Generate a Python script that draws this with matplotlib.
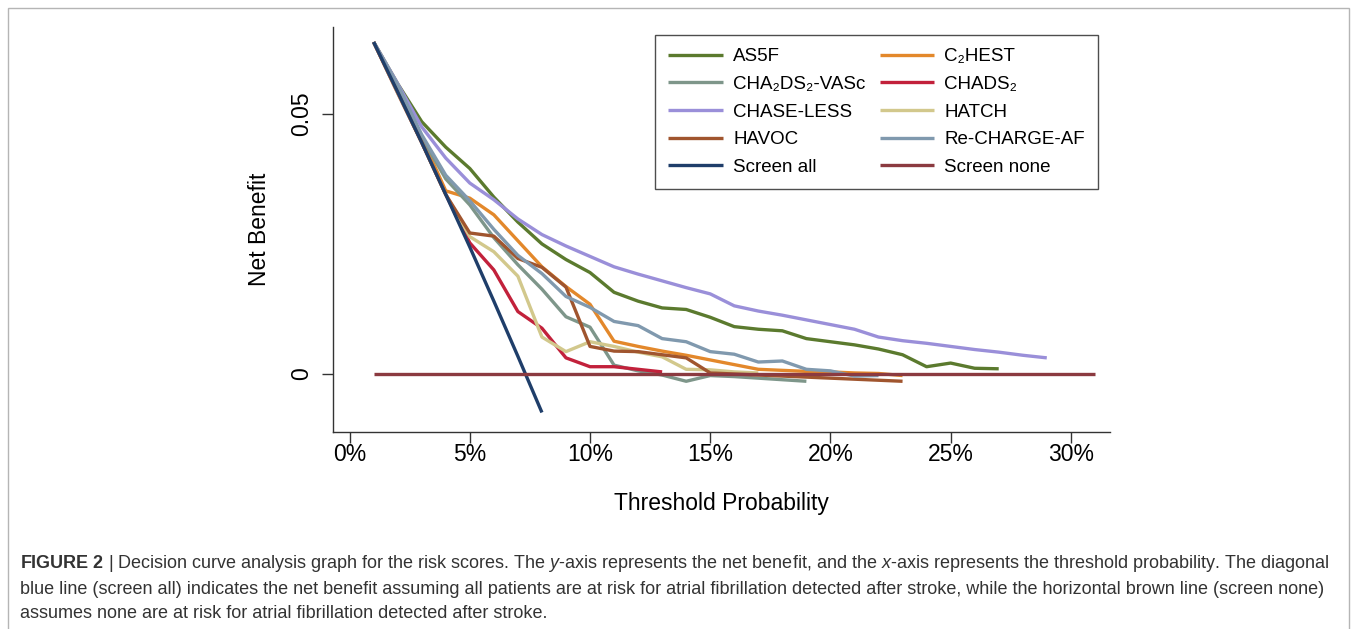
"""
Decision curve analysis for AF risk scores (net benefit vs threshold probability)
"""

import matplotlib
matplotlib.use('Agg')
from matplotlib import pyplot as plt
from matplotlib.patches import Rectangle
from matplotlib.ticker import FuncFormatter

plt.rcParams['font.family'] = ['Liberation Sans', 'DejaVu Sans']
plt.rcParams['mathtext.fontset'] = 'custom'
plt.rcParams['mathtext.rm'] = 'Liberation Sans'
plt.rcParams['mathtext.it'] = 'Liberation Sans:italic'
plt.rcParams['mathtext.bf'] = 'Liberation Sans:bold'

# threshold probabilities (%) and net benefit per score
as5f = [0.0638, 0.0558, 0.0485, 0.0436, 0.0395, 0.0340, 0.0292, 0.0250, 0.0220, 0.0195,
        0.0157, 0.0140, 0.0127, 0.0124, 0.0109, 0.0091, 0.0086, 0.0083, 0.0068, 0.0062,
        0.0056, 0.0048, 0.0037, 0.0014, 0.0021, 0.0011, 0.0010]
c2hest = [0.0638, 0.0555, 0.0455, 0.0352, 0.0338, 0.0306, 0.0256, 0.0206, 0.0168, 0.0134,
          0.0063, 0.0053, 0.0044, 0.0036, 0.0027, 0.0018, 0.0009, 0.0007, 0.0005, 0.0004,
          0.0002, 0.0001, -0.0003]
cha2ds2vasc = [0.0638, 0.0550, 0.0455, 0.0375, 0.0325, 0.0262, 0.0210, 0.0163, 0.0110, 0.0090,
               0.0017, 0.0006, -0.0002, -0.0014, -0.0003, -0.0005, -0.0008, -0.0011, -0.0014]
chads2 = [0.0638, 0.0540, 0.0445, 0.0345, 0.0252, 0.0200, 0.0120, 0.0088, 0.0031, 0.0014,
          0.0014, 0.0009, 0.0004]
chase_less = [0.0638, 0.0558, 0.0475, 0.0415, 0.0367, 0.0335, 0.0298, 0.0268, 0.0246, 0.0226,
              0.0206, 0.0192, 0.0179, 0.0166, 0.0154, 0.0131, 0.0121, 0.0113, 0.0104, 0.0095,
              0.0086, 0.0071, 0.0064, 0.0059, 0.0053, 0.0047, 0.0042, 0.0036, 0.0031]
hatch = [0.0638, 0.0540, 0.0445, 0.0345, 0.0264, 0.0235, 0.0188, 0.0071, 0.0043, 0.0062,
         0.0053, 0.0042, 0.0033, 0.0009, 0.0008, 0.0004, 0.0002]
havoc = [0.0638, 0.0542, 0.0445, 0.0345, 0.0271, 0.0265, 0.0222, 0.0205, 0.0167, 0.0053,
         0.0044, 0.0043, 0.0037, 0.0031, 0.0002, 0.0000, -0.0002, -0.0004, -0.0006, -0.0008,
         -0.0010, -0.0012, -0.0014]
recharge_af = [0.0638, 0.0556, 0.0460, 0.0382, 0.0333, 0.0278, 0.0228, 0.0193, 0.0149, 0.0128,
               0.0101, 0.0093, 0.0068, 0.0062, 0.0043, 0.0038, 0.0023, 0.0025, 0.0009, 0.0006,
               -0.0004, -0.0003]
screen_all = [0.0638, 0.0542, 0.0445, 0.0345, 0.0244, 0.0140, 0.0034, -0.0074]
screen_none = [0.0] * 31

labels = ['AS5F', 'C\u2082HEST', 'CHA\u2082DS\u2082-VASc', 'CHADS\u2082', 'CHASE-LESS',
          'HATCH', 'HAVOC', 'Re-CHARGE-AF', 'Screen all', 'Screen none']
series = [as5f, c2hest, cha2ds2vasc, chads2, chase_less, hatch, havoc, recharge_af,
          screen_all, screen_none]
colors = ['#5b7a2e', '#e3882b', '#7e968a', '#c2213b', '#9a8fd9', '#d2c88c', '#a0552e',
          '#8099ae', '#1f3e6a', '#8b3a40']

xticks = [0, 5, 10, 15, 20, 25, 30]
yticks = [0, 0.05]

fig = plt.figure(figsize=(13.57, 6.29), dpi=100)
ax = fig.add_axes([0.2454, 0.3132, 0.5726, 0.6439])

handles = {}
for lab, vals, col in zip(labels, series, colors):
    t = list(range(1, len(vals) + 1))
    h, = ax.plot(t, vals, color=col, lw=2.4, solid_capstyle='butt')
    handles[lab] = h

ax.set_xlim(-0.69, 31.63)
ax.set_ylim(-0.01115, 0.0667)
ax.set_xticks(xticks)
ax.set_yticks(yticks)
ax.xaxis.set_major_formatter(FuncFormatter(lambda v, p: '{:d}%'.format(int(v))))
ax.set_yticklabels(['0', '0.05'], rotation=90, va='center')
ax.tick_params(axis='both', labelsize=16.5, length=8, width=1, color='#333333')
ax.tick_params(axis='x', pad=0)
ax.tick_params(axis='y', pad=6)

for s in ['top', 'right']:
    ax.spines[s].set_visible(False)
for s in ['left', 'bottom']:
    ax.spines[s].set_color('#333333')
    ax.spines[s].set_linewidth(1.0)

ax.set_xlabel('Threshold Probability', fontsize=16.5, labelpad=19)
ax.set_ylabel('Net Benefit', fontsize=16.5, labelpad=14)

# legend is row-major in the original; matplotlib fills columns first
order = ['AS5F', 'CHA\u2082DS\u2082-VASc', 'CHASE-LESS', 'HAVOC', 'Screen all',
         'C\u2082HEST', 'CHADS\u2082', 'HATCH', 'Re-CHARGE-AF', 'Screen none']
leg = ax.legend([handles[k] for k in order], order, ncol=2, loc='upper right',
                bbox_to_anchor=(0.9846, 0.980), borderaxespad=0, fontsize=13.5,
                frameon=True, fancybox=False, handlelength=2.9, handletextpad=0.55,
                columnspacing=0.75, labelspacing=0.56, borderpad=0.7)
leg.get_frame().set_edgecolor('#222222')
leg.get_frame().set_linewidth(1.0)

# caption
cap = '#333333'
fig.text(20 / 1357, 1 - 564 / 629,
         r'$\mathbf{FIGURE\ 2}$ | Decision curve analysis graph for the risk scores. The $\mathit{y}$-axis '
         r'represents the net benefit, and the $\mathit{x}$-axis represents the threshold probability. The diagonal',
         fontsize=13.0, color=cap, va='center')
fig.text(20 / 1357, 1 - 590 / 629,
         'blue line (screen all) indicates the net benefit assuming all patients are at risk for atrial '
         'fibrillation detected after stroke, while the horizontal brown line (screen none)',
         fontsize=13.0, color=cap, va='center')
fig.text(20 / 1357, 1 - 614 / 629,
         'assumes none are at risk for atrial fibrillation detected after stroke.',
         fontsize=13.0, color=cap, va='center')

# thin frame round the whole figure panel
fig.patches.append(Rectangle((8 / 1357, -0.02), 1341 / 1357, 1.0 - 8 / 629 + 0.02,
                             transform=fig.transFigure, fill=False, ec='#b5b5b5', lw=1.0))

fig.savefig('out.png', dpi=100)
